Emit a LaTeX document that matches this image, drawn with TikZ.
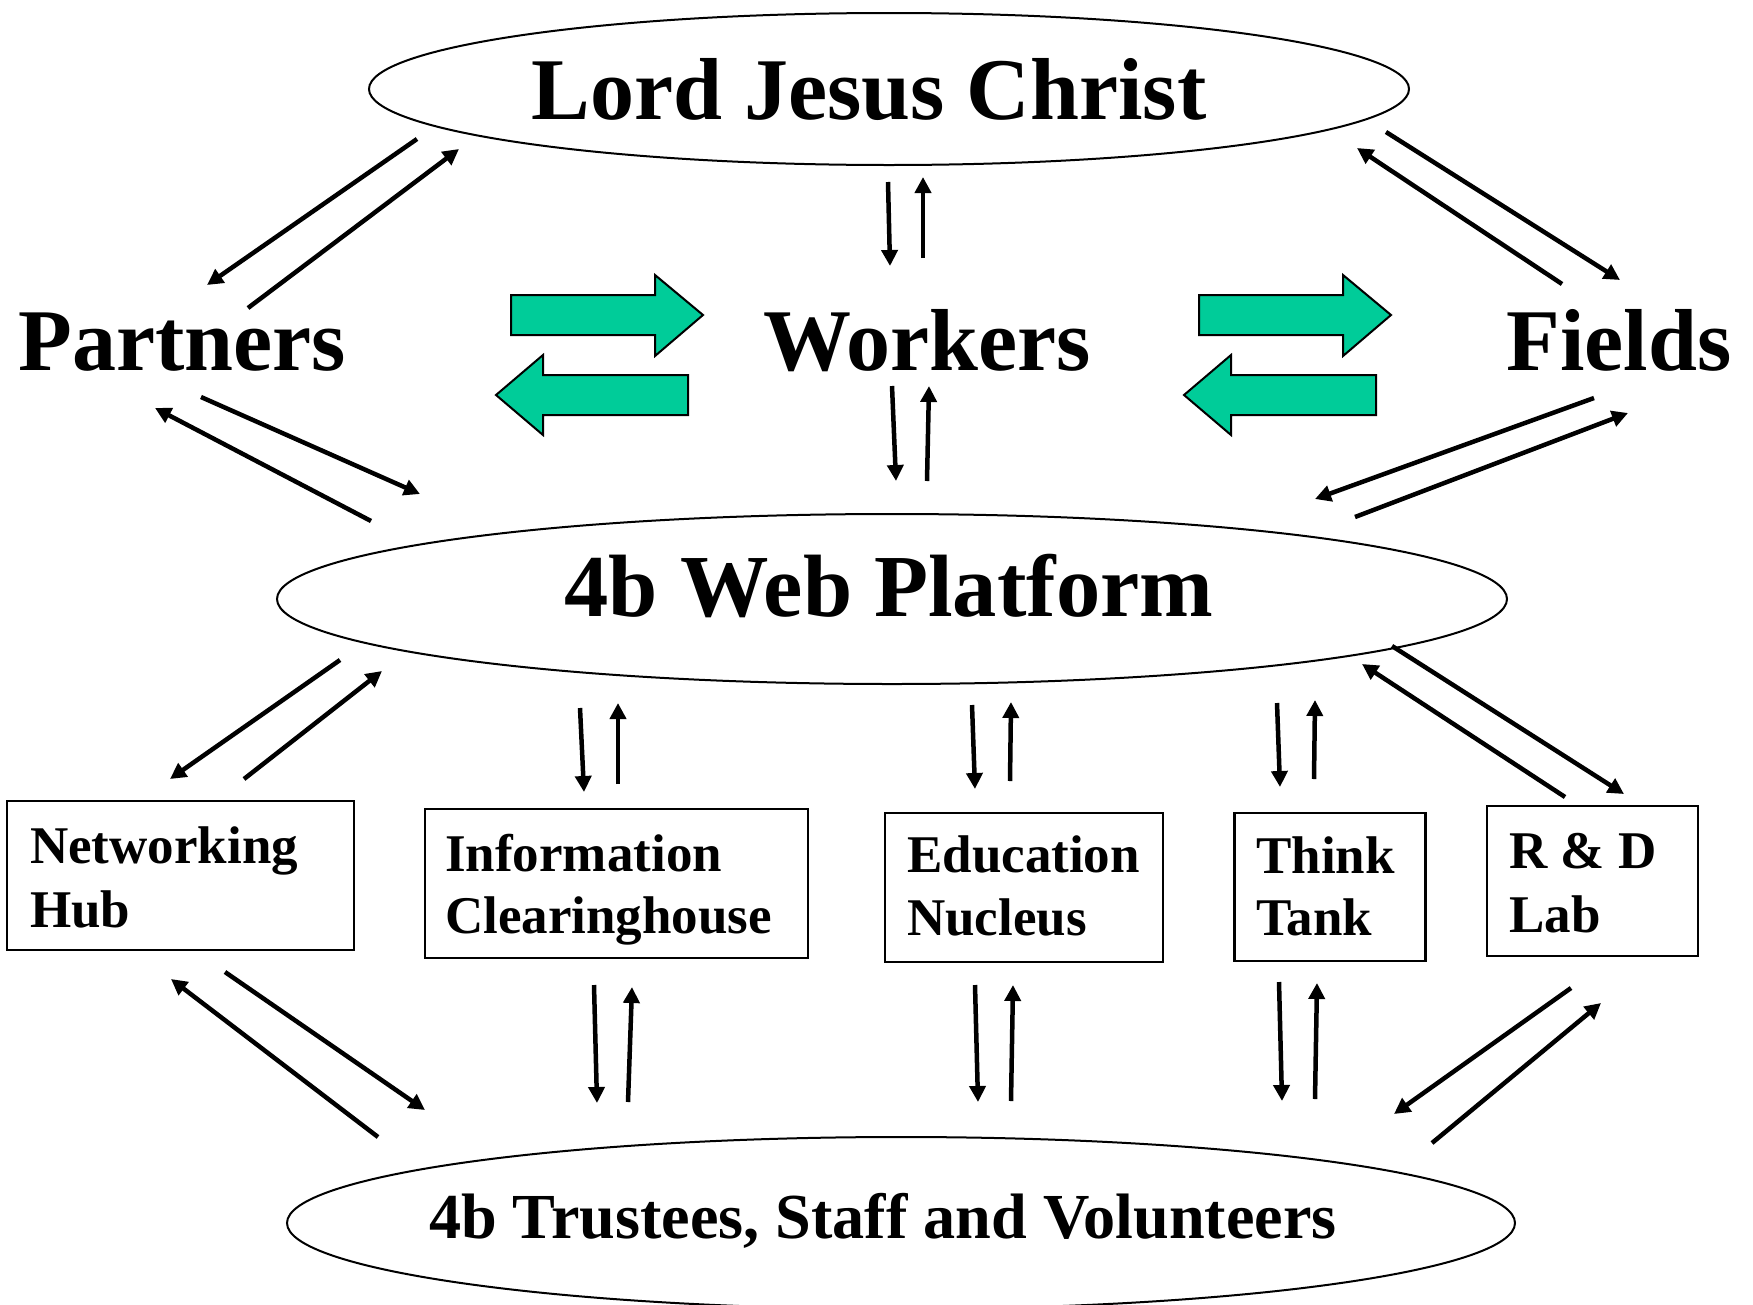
\documentclass[tikz,border=0pt]{standalone}
\usepackage{fontspec}
\setmainfont{Liberation Serif}
\usetikzlibrary{shapes.geometric,arrows.meta}
\definecolor{arrgreen}{RGB}{0,204,153}
\tikzset{
  oval/.style={draw, ellipse, line width=2pt, inner sep=0pt},
  bigtxt/.style={anchor=base, inner sep=0pt, font=\fontsize{88}{88}\bfseries\selectfont},
  boxtxt/.style={anchor=base west, inner sep=0pt, font=\fontsize{53}{53}\bfseries\selectfont},
  unitbox/.style={draw, line width=2.2pt, rectangle, inner sep=0pt},
  arr/.style={line width=4.5pt, -{Triangle[length=16pt,width=16pt]}},
  fatarrow/.style={draw=black, line width=2pt, fill=arrgreen, line join=miter}
}
\begin{document}
\begin{tikzpicture}[x=1pt,y=-1pt]
\useasboundingbox (0,0) rectangle (1753,1304);
% ellipses
\node[oval, minimum width=1040pt, minimum height=152pt] (lord) at (889,89) {};
\node[bigtxt] (lordt) at (869,119) {Lord Jesus Christ};
\node[oval, minimum width=1230pt, minimum height=170pt] (web) at (892,599) {};
\node[bigtxt, font=\fontsize{88.5}{88.5}\bfseries\selectfont] (webt) at (889,616) {4b Web Platform};
\node[oval, minimum width=1228pt, minimum height=172pt] (trust) at (901,1223) {};
\node[bigtxt, font=\fontsize{64.2}{64.2}\bfseries\selectfont] (trustt) at (883,1238) {4b Trustees, Staff and Volunteers};
% middle row words
\node[bigtxt] (partners) at (182,370) {Partners};
\node[bigtxt] (workers) at (927,370) {Workers};
\node[bigtxt] (fields) at (1619,370) {Fields};
% boxes
\node[unitbox, minimum width=347pt, minimum height=149pt] (net) at (180.5,875.5) {};
\node[boxtxt] (net1) at (30,863) {Networking};
\node[boxtxt] (net2) at (30,927) {Hub};
\node[unitbox, minimum width=383pt, minimum height=149pt] (info) at (616.5,883.5) {};
\node[boxtxt] (info1) at (445,871) {Information};
\node[boxtxt] (info2) at (445,933) {Clearinghouse};
\node[unitbox, minimum width=278pt, minimum height=149pt] (edu) at (1024,887.5) {};
\node[boxtxt] (edu1) at (907,872) {Education};
\node[boxtxt] (edu2) at (907,935) {Nucleus};
\node[unitbox, minimum width=191pt, minimum height=148pt] (think) at (1330,887) {};
\node[boxtxt] (think1) at (1256,873) {Think};
\node[boxtxt] (think2) at (1256,935) {Tank};
\node[unitbox, minimum width=211pt, minimum height=150pt] (rd) at (1592.5,881) {};
\node[boxtxt] (rd1) at (1509,868) {R \& D};
\node[boxtxt] (rd2) at (1509,932) {Lab};
% green double arrows
\foreach \dx in {0,688}{
  \begin{scope}[xshift=\dx]
  \draw[fatarrow] (511,295) -- (655,295) -- (655,275) -- (703,315) -- (655,356) -- (655,335) -- (511,335) -- cycle;
  \draw[fatarrow] (688,375) -- (543,375) -- (543,355) -- (496,395) -- (543,435) -- (543,415) -- (688,415) -- cycle;
  \end{scope}
}
% Lord <-> Partners
\draw[arr] (417,139) -- (207,285);
\draw[arr] (248,308) -- (459,149);
% Lord <-> Workers
\draw[arr] (888,182) -- (890,266);
\draw[arr] (923,258) -- (923,177);
% Lord <-> Fields
\draw[arr] (1562,284) -- (1357,148);
\draw[arr] (1386,132) -- (1620,280);
% Workers <-> Web
\draw[arr] (892,386) -- (896,481);
\draw[arr] (927,481) -- (929,386);
% Partners <-> Web
\draw[arr] (201,397) -- (420,494);
\draw[arr] (371,521) -- (155,408);
% Fields <-> Web
\draw[arr] (1594,398) -- (1315,499);
\draw[arr] (1355,517) -- (1628,413);
% Web <-> boxes
\draw[arr] (340,660) -- (170,779);
\draw[arr] (244,779) -- (382,671);
\draw[arr] (580,708) -- (584,792);
\draw[arr] (618,784) -- (618,703);
\draw[arr] (972,705) -- (975,789);
\draw[arr] (1010,781) -- (1011,702);
\draw[arr] (1277,703) -- (1280,787);
\draw[arr] (1314,779) -- (1315,700);
\draw[arr] (1565,797) -- (1362,664);
\draw[arr] (1392,646) -- (1624,794);
% boxes <-> Trustees
\draw[arr] (378,1137) -- (171,979);
\draw[arr] (225,972) -- (425,1110);
\draw[arr] (594,985) -- (597,1103);
\draw[arr] (628,1102) -- (632,987);
\draw[arr] (975,985) -- (978,1102);
\draw[arr] (1011,1101) -- (1013,985);
\draw[arr] (1279,982) -- (1282,1101);
\draw[arr] (1315,1099) -- (1317,983);
\draw[arr] (1571,988) -- (1394,1114);
\draw[arr] (1432,1143) -- (1601,1003);
\end{tikzpicture}
\end{document}
